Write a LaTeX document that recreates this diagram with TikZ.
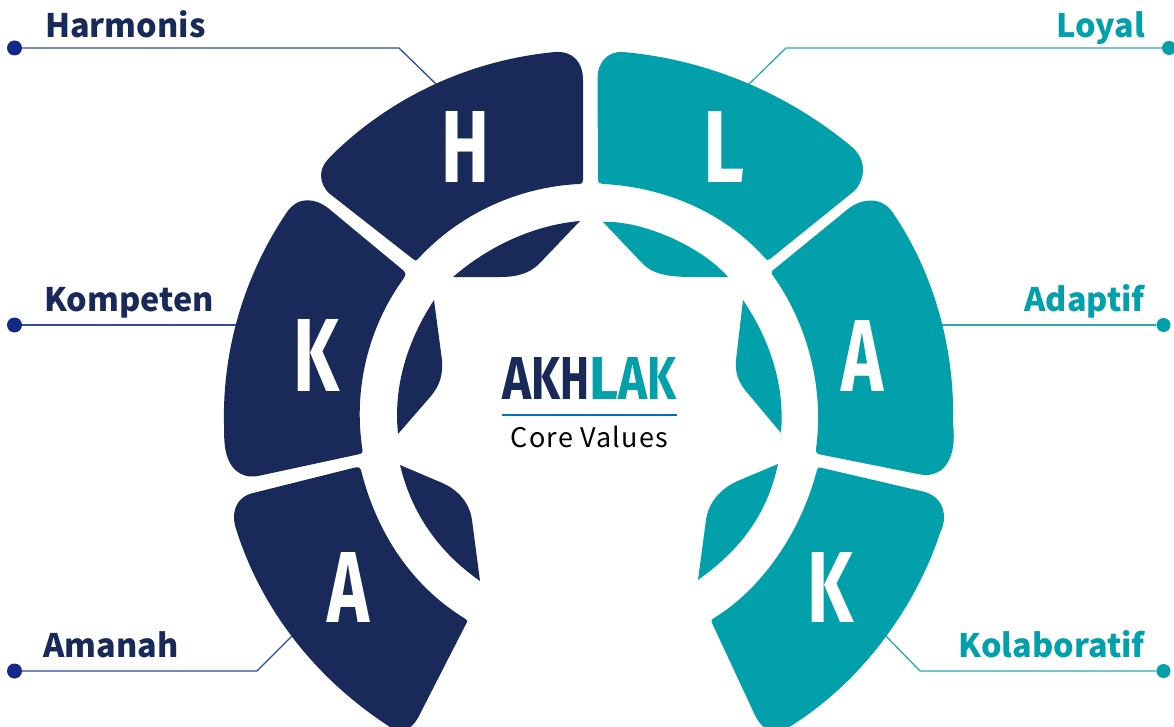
\documentclass[tikz,border=0pt]{standalone}
\usepackage{fontspec}
\setmainfont{Noto Sans CJK SC}
\newfontfamily\letterfont{Fira Sans}
\definecolor{navyc}{HTML}{192A5A}
\definecolor{tealc}{HTML}{02A0AB}
\definecolor{linel}{HTML}{2F4A9E}
\definecolor{liner}{HTML}{2BA6B2}
\definecolor{dotl}{HTML}{14288A}
\definecolor{rulec}{HTML}{0071BC}
\newcommand{\biglet}[3]{\resizebox{#1pt}{#2pt}{\letterfont\bfseries\fontsize{60}{60}\selectfont #3}}
\newcommand{\ttl}[1]{\resizebox{29pt}{42pt}{\letterfont\bfseries\fontsize{60}{60}\selectfont #1}}
\tikzset{
  navyseg/.style={fill=navyc,draw=none},
  tealseg/.style={fill=tealc,draw=none},
  letterlabel/.style={text=white,inner sep=0pt,anchor=center},
  namel/.style={font=\bfseries\fontsize{32.4}{32.4}\selectfont,text=navyc,inner sep=0pt,anchor=base west},
  namer/.style={font=\bfseries\fontsize{32.4}{32.4}\selectfont,text=tealc,inner sep=0pt,anchor=base east},
  dotleft/.style={circle,fill=dotl,minimum size=15pt,inner sep=0pt},
  dotright/.style={circle,fill=tealc,minimum size=14pt,inner sep=0pt},
  leadl/.style={draw=linel,line width=1.3pt},
  leadr/.style={draw=liner,line width=1.3pt}
}
\begin{document}
\begin{tikzpicture}[x=1pt,y=-1pt]
\useasboundingbox (0,0) rectangle (1174,727);
\clip (0,0) rectangle (1174,727);
% connector anchors
\coordinate (hbend) at (399,48);
\coordinate (hend) at (438,86);
\coordinate (kend) at (240,325);
\coordinate (abend) at (257,671);
\coordinate (aend) at (295,633);
\coordinate (lbend) at (786,48);
\coordinate (lend) at (748,85);
\coordinate (rend) at (940,325);
\coordinate (kbend) at (920,671);
\coordinate (kend2) at (884,634);
\node[dotleft] (dh) at (14.5,48) {};
\node[dotleft] (dk) at (14.5,325) {};
\node[dotleft] (da) at (14.5,671) {};
\node[dotright] (dl) at (1169,48) {};
\node[dotright] (dr) at (1163.5,325) {};
\node[dotright] (dk2) at (1163.5,671) {};
\draw[leadl] (dh) -- (hbend) -- (hend);
\draw[leadl] (dk) -- (kend);
\draw[leadl] (da) -- (abend) -- (aend);
\draw[leadr] (dl) -- (lbend) -- (lend);
\draw[leadr] (dr) -- (rend);
\draw[leadr] (dk2) -- (kbend) -- (kend2);
% left segments
\fill[navyseg] (555,52) .. controls (471,60) and (392,96) .. (332,155)
  .. controls (325,162) and (321,168) .. (321,175)
  .. controls (321,182) and (324,189) .. (330,194) -- (413,259)
  .. controls (415,261) and (417,261) .. (418,259)
  .. controls (459,214) and (518,187) .. (579,184)
  .. controls (582,184) and (583,183) .. (583,180) -- (583,80)
  .. controls (583,62) and (573,51) .. (555,52) -- cycle;
\fill[navyseg] (287,212) .. controls (245,274) and (222.5,348) .. (224,423)
  .. controls (224,433) and (224,440) .. (225,447)
  .. controls (228,468) and (240,479) .. (258,476) -- (360,454)
  .. controls (362,453.5) and (363,452) .. (362.5,450)
  .. controls (353,390) and (368,327) .. (404,278)
  .. controls (406,275.5) and (406,273) .. (404,271) -- (328,208)
  .. controls (315,198) and (298,196) .. (287,212) -- cycle;
\fill[navyseg] (355,467.5) -- (253,493)
  .. controls (240,496) and (234,506) .. (234,517)
  .. controls (234,522) and (235,526) .. (237,532)
  .. controls (263,612) and (317,679) .. (387,725)
  .. controls (400,735) and (412,732) .. (421,712) -- (466,624)
  .. controls (468,621) and (467,620) .. (464,618)
  .. controls (410.5,585) and (376,531) .. (361,470)
  .. controls (360.5,467) and (358,467) .. (355,467.5) -- cycle;
\fill[navyseg] (580,221) .. controls (535,225) and (490,245) .. (453,277) -- (500,277)
  .. controls (518,277) and (529,273) .. (538,265) -- cycle;
\fill[navyseg] (434,300) -- (442,360) .. controls (443,375) and (440,385) .. (431,396)
  -- (398,434) .. controls (393,385) and (408,340) .. (434,300) -- cycle;
\fill[navyseg] (400,465) -- (440,482) .. controls (460,490) and (470,505) .. (472,520)
  -- (480,581) .. controls (440,553) and (412,515) .. (400,465) -- cycle;
% right segments
\fill[tealseg] (623,52) .. controls (713,60) and (792,97) .. (852,147)
  .. controls (860,154) and (863,162) .. (863,170)
  .. controls (863,178) and (859,187) .. (853,192) -- (770,259)
  .. controls (768,261) and (766,260) .. (765,258)
  .. controls (724,212) and (664,187) .. (603,184)
  .. controls (600,184) and (598,183) .. (598,179) -- (597.5,80)
  .. controls (597,62) and (608,51) .. (623,52) -- cycle;
\fill[tealseg] (772,271) -- (848,209)
  .. controls (862,198) and (882,196) .. (893,213)
  .. controls (932,270) and (955,345) .. (953,423)
  .. controls (954,432) and (954,440) .. (953,447)
  .. controls (949,470) and (935,478) .. (918,474) -- (818,454)
  .. controls (816,453) and (816,451) .. (816,449)
  .. controls (824,390) and (809,327) .. (774,277)
  .. controls (772,275) and (771,273) .. (772,271) -- cycle;
\fill[tealseg] (820,467.5) -- (925,492)
  .. controls (938,496) and (944,506) .. (944,517)
  .. controls (944,522) and (943,527) .. (940,533)
  .. controls (916,606) and (864,678) .. (797,722)
  .. controls (775,738) and (762,732) .. (753,711) -- (712,623)
  .. controls (711,621) and (711,620) .. (714,618)
  .. controls (760,590) and (800,535) .. (817,470)
  .. controls (818,468) and (818,467) .. (820,467.5) -- cycle;
\fill[tealseg] (603,222) .. controls (640,220) and (700,245) .. (728,277) -- (692,277)
  .. controls (668,277) and (652,274) .. (642,263) -- cycle;
\fill[tealseg] (743,300) -- (736,360) .. controls (735,372) and (738,381) .. (745,390)
  -- (781,433) .. controls (785,385) and (770,340) .. (743,300) -- cycle;
\fill[tealseg] (778,464) -- (740,480) .. controls (718,489) and (708,505) .. (706,520)
  -- (698,580) .. controls (740,550) and (767,515) .. (778,464) -- cycle;
% big letters
\node[letterlabel] (lh) at (465,146.5) {\biglet{48}{71}{H}};
\node[letterlabel] (lk) at (316.5,355) {\biglet{46}{72}{K}};
\node[letterlabel] (la) at (348,587) {\biglet{42}{70}{A}};
\node[letterlabel] (ll) at (723.5,146.5) {\biglet{41}{71}{L}};
\node[letterlabel] (lr) at (862,355.5) {\biglet{42}{71}{A}};
\node[letterlabel] (lk2) at (830.5,587) {\biglet{46}{70}{K}};
% names
\node[namel] (nh) at (45,38) {Harmonis};
\node[namel] (nk) at (44,311) {Kompeten};
\node[namel] (na) at (43,657) {Amanah};
\node[namer] (nl) at (1145,38) {Loyal};
\node[namer] (nr) at (1145,311) {Adaptif};
\node[namer] (nk2) at (1145,657) {Kolaboratif};
% centre title
\node[inner sep=0pt] (title) at (589.5,378.5) {\textcolor{navyc}{\ttl{A}\ttl{K}\ttl{H}}\textcolor{tealc}{\ttl{L}\ttl{A}\ttl{K}}};
\coordinate (rulea) at (502,415);
\coordinate (ruleb) at (677,415);
\draw[draw=rulec,line width=2.6pt] (rulea) -- (ruleb);
\node[inner sep=0pt,anchor=base,font=\fontsize{27}{27}\selectfont\addfontfeature{LetterSpace=4.5},text=black] (core) at (589.5,447) {Core Values};
\end{tikzpicture}
\end{document}
